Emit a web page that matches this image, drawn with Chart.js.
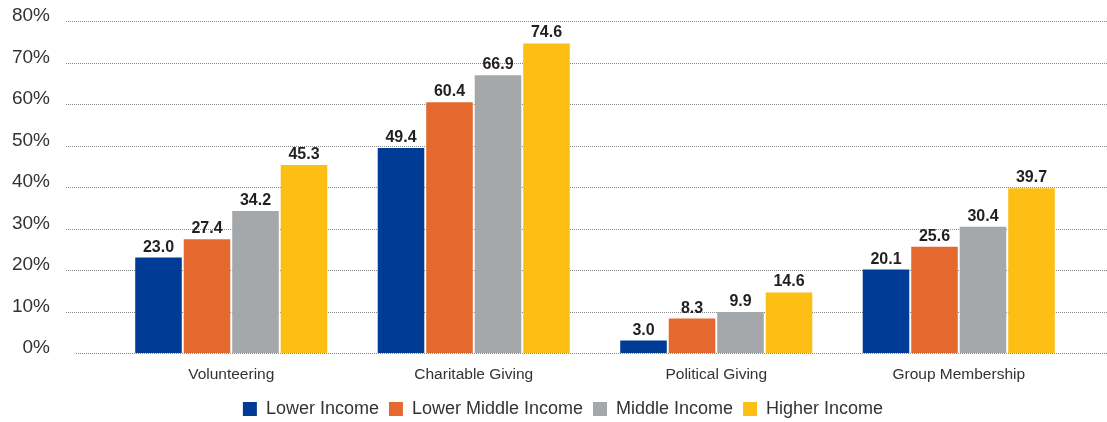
<!DOCTYPE html>
<html>
<head>
<meta charset="utf-8">
<script src="https://cdn.jsdelivr.net/npm/chart.js@4/dist/chart.umd.min.js"></script>
<style>
  html, body { margin: 0; padding: 0; background: #fff; }
  #wrap { width: 1107px; height: 422px; }
</style>
</head>
<body>
<div id="wrap"><canvas id="chart"></canvas></div>
<script>
// Categories along the x axis
const categories = ["Volunteering", "Charitable Giving", "Political Giving", "Group Membership"];
// One series per income group
const lowerIncome = [23.0, 49.4, 3.0, 20.1];
const lowerMiddleIncome = [27.4, 60.4, 8.3, 25.6];
const middleIncome = [34.2, 66.9, 9.9, 30.4];
const higherIncome = [45.3, 74.6, 14.6, 39.7];
const seriesNames = ["Lower Income", "Lower Middle Income", "Middle Income", "Higher Income"];
const barColors = ["#003b95", "#e5692e", "#a5a8ab", "#fdbf14"];

const sans = "'Liberation Sans', Arial, sans-serif";

// Dotted gridlines drawn a bit wider than the chart area, like the original
const dottedGrid = {
  id: "dottedGrid",
  beforeDatasetsDraw(chart) {
    const ctx = chart.ctx;
    const y = chart.scales.y;
    ctx.save();
    ctx.strokeStyle = "#8a8a8a";
    ctx.lineWidth = 1;
    ctx.setLineDash([1, 1]);
    y.ticks.forEach((t) => {
      const py = Math.round(y.getPixelForValue(t.value)) + 0.5;
      ctx.beginPath();
      ctx.moveTo(t.value === 0 ? 76 : 66, py);
      ctx.lineTo(chart.width, py);
      ctx.stroke();
    });
    ctx.restore();
  },
};

// Value labels above each bar
const valueLabels = {
  id: "valueLabels",
  afterDatasetsDraw(chart) {
    const ctx = chart.ctx;
    ctx.save();
    ctx.font = "bold 16px " + sans;
    ctx.fillStyle = "#231f20";
    ctx.textAlign = "center";
    ctx.textBaseline = "alphabetic";
    chart.data.datasets.forEach((ds, i) => {
      chart.getDatasetMeta(i).data.forEach((bar, j) => {
        ctx.fillText(ds.data[j].toFixed(1), bar.x, bar.y - 6);
      });
    });
    ctx.restore();
  },
};

// Nudge the legend right and down a little, as in the original
const legendNudge = {
  id: "legendNudge",
  afterLayout(chart) {
    const l = chart.legend;
    l.left += 23;
    l.right += 23;
    l.top += 6;
    l.bottom += 6;
  },
};

const seriesData = [lowerIncome, lowerMiddleIncome, middleIncome, higherIncome];

new Chart(document.getElementById("chart"), {
  type: "bar",
  plugins: [dottedGrid, valueLabels, legendNudge],
  data: {
    labels: categories,
    datasets: seriesData.map((d, i) => ({
      label: seriesNames[i],
      data: d,
      backgroundColor: barColors[i],
      categoryPercentage: 0.8,
      barPercentage: 0.96,
    })),
  },
  options: {
    responsive: true,
    maintainAspectRatio: false,
    animation: false,
    layout: { padding: { left: 0, right: 27, top: 21, bottom: 0 } },
    scales: {
      x: {
        grid: { display: false, drawTicks: false },
        border: { display: false },
        afterFit: (s) => { s.height = 31; },
        ticks: {
          color: "#333",
          maxRotation: 0,
          font: { family: sans, size: 15.5 },
          padding: 12,
        },
      },
      y: {
        min: 0,
        max: 80,
        grid: { display: false, drawTicks: false },
        border: { display: false },
        afterFit: (s) => {
          s.width = 110;
          s.paddingTop = 0;
          s.paddingBottom = 0;
        },
        ticks: {
          stepSize: 10,
          color: "#333",
          font: { family: sans, size: 19 },
          padding: 60,
          labelOffset: -5,
          callback: (v) => v + "%",
        },
      },
    },
    plugins: {
      tooltip: { enabled: false },
      legend: {
        position: "bottom",
        labels: {
          boxWidth: 14,
          boxHeight: 14,
          padding: 10,
          color: "#333",
          font: { family: sans, size: 18 },
        },
      },
    },
  },
});
</script>
</body>
</html>
